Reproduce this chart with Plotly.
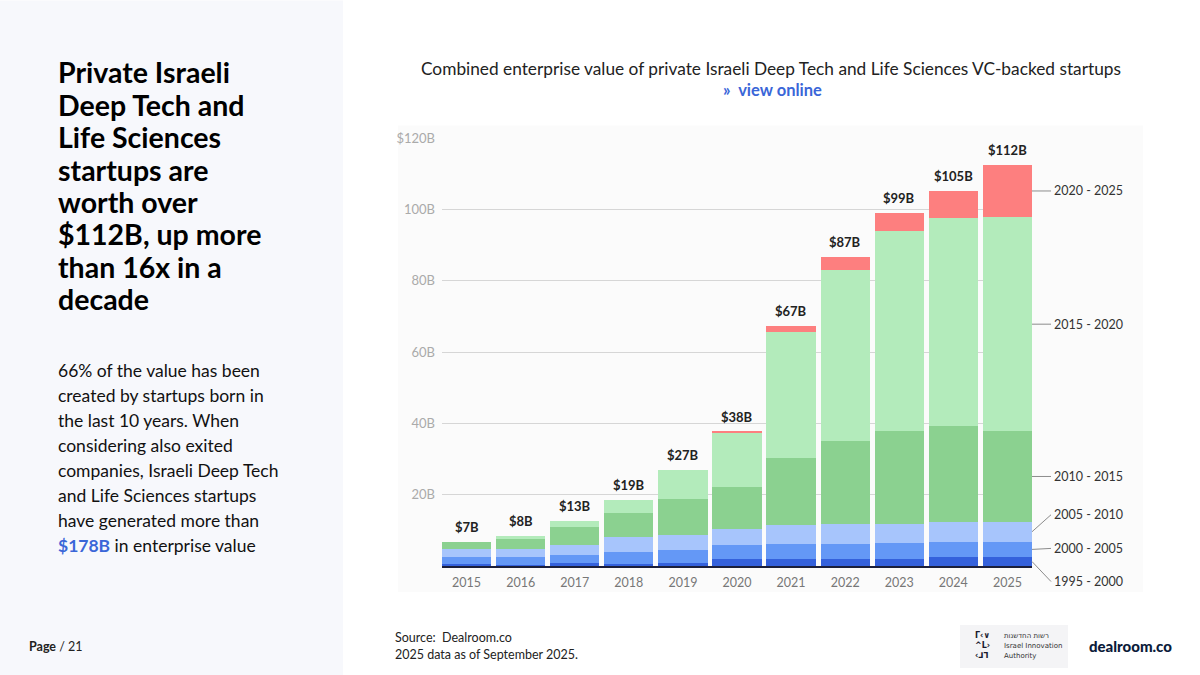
import plotly.graph_objects as go

# ---------------- data ----------------
years = ["2015", "2016", "2017", "2018", "2019", "2020", "2021", "2022", "2023", "2024", "2025"]
cohort_1995_2000 = [0.5, 0.3, 0.9, 0.5, 0.8, 2.0, 2.0, 2.0, 2.0, 2.5, 2.5]
cohort_2000_2005 = [2.1, 2.1, 2.1, 3.5, 3.7, 3.8, 4.3, 4.3, 4.4, 4.3, 4.3]
cohort_2005_2010 = [2.1, 2.5, 2.9, 4.2, 4.3, 4.6, 5.2, 5.4, 5.5, 5.6, 5.6]
cohort_2010_2015 = [1.9, 2.6, 5.1, 6.7, 9.9, 11.8, 18.9, 23.4, 26.0, 26.9, 25.4]
cohort_2015_2020 = [0.0, 0.8, 1.6, 3.7, 8.1, 15.1, 35.1, 48.0, 55.9, 58.2, 60.0]
cohort_2020_2025 = [0.0, 0.0, 0.0, 0.0, 0.0, 0.3, 1.9, 3.6, 5.2, 7.6, 14.7]
total_labels = ["$7B", "$8B", "$13B", "$19B", "$27B", "$38B", "$67B", "$87B", "$99B", "$105B", "$112B"]
series_names = ["1995 - 2000", "2000 - 2005", "2005 - 2010", "2010 - 2015", "2015 - 2020", "2020 - 2025"]
y_tickvals = [0, 20, 40, 60, 80, 100, 120]
y_ticktext = ["", "20B", "40B", "60B", "80B", "100B", "$120B"]

series = [cohort_1995_2000, cohort_2000_2005, cohort_2005_2010,
          cohort_2010_2015, cohort_2015_2020, cohort_2020_2025]
colors = ["#3461dc", "#6498f6", "#a7c5fc", "#8bd190", "#b3ebbb", "#fd7f7f"]

FONT = "Lato, 'Source Sans Pro', sans-serif"
W, H = 1200, 675
L, R, T, B = 442, 168, 137.6, 109
PW, PH = W - L - R, H - T - B


def px(x):
    return (x - L) / PW


def py(y):
    return (H - B - y) / PH


fig = go.Figure()
for name, vals, col in zip(series_names, series, colors):
    fig.add_trace(go.Bar(x=years, y=vals, name=name, marker=dict(color=col, line=dict(width=0)),
                         hoverinfo="skip"))

totals = [sum(v) for v in zip(*series)]
annotations = []
for i, (tot, lab) in enumerate(zip(totals, total_labels)):
    annotations.append(dict(xref="x", yref="y", x=i, y=tot, text=lab, showarrow=False,
                            xanchor="center", yanchor="bottom", yshift=5,
                            font=dict(family=FONT, size=13, color="#222222", weight="bold")))

# series labels at the end of the last bar
last = [s[-1] for s in series]
cum = 0
label_offsets = [20, -1, -17, 0, 0, 0]
for name, v, ay in zip(series_names, last, label_offsets):
    mid = cum + v / 2
    cum += v
    annotations.append(dict(xref="x", yref="y", x=len(years) - 1 + 0.455, y=mid, text=name,
                            showarrow=True, arrowhead=0, arrowwidth=1, arrowcolor="#8c8c8c",
                            ax=19, ay=ay, xanchor="left", yanchor="middle", borderpad=2,
                            font=dict(family=FONT, size=12.5, color="#333333")))

# title
annotations.append(dict(xref="paper", yref="paper", x=px(771), y=py(68), showarrow=False,
                        xanchor="center", yanchor="middle",
                        text="Combined enterprise value of private Israeli Deep Tech and Life Sciences VC-backed startups",
                        font=dict(family=FONT, size=17.3, color="#222222")))
annotations.append(dict(xref="paper", yref="paper", x=px(772), y=py(90), showarrow=False,
                        xanchor="center", yanchor="middle", text="»  view online",
                        font=dict(family=FONT, size=16.5, color="#3a66d8", weight="bold")))

# left panel heading
heading_lines = ["Private Israeli", "Deep Tech and", "Life Sciences", "startups are",
                 "worth over", "$112B, up more", "than 16x in a", "decade"]
for i, line in enumerate(heading_lines):
    annotations.append(dict(xref="paper", yref="paper", x=px(56), y=py(72 + i * 32.4), showarrow=False,
                            xanchor="left", yanchor="middle", text=line,
                            font=dict(family=FONT, size=28.5, color="#000000", weight="bold")))

body_lines = ["66% of the value has been", "created by startups born in", "the last 10 years. When",
              "considering also exited", "companies, Israeli Deep Tech", "and Life Sciences startups",
              "have generated more than",
              "<b><span style='color:#3a66d8'>$178B</span></b> in enterprise value"]
for i, line in enumerate(body_lines):
    annotations.append(dict(xref="paper", yref="paper", x=px(56), y=py(370 + i * 25), showarrow=False,
                            xanchor="left", yanchor="middle", text=line,
                            font=dict(family=FONT, size=17.5, color="#111111")))

annotations.append(dict(xref="paper", yref="paper", x=px(27), y=py(647), showarrow=False,
                        xanchor="left", yanchor="middle", text="<b>Page</b> / 21",
                        font=dict(family=FONT, size=12.5, color="#222222")))
annotations.append(dict(xref="paper", yref="paper", x=px(393), y=py(638), showarrow=False,
                        xanchor="left", yanchor="middle", text="Source:  Dealroom.co",
                        font=dict(family=FONT, size=12.5, color="#222222")))
annotations.append(dict(xref="paper", yref="paper", x=px(393), y=py(655), showarrow=False,
                        xanchor="left", yanchor="middle", text="2025 data as of September 2025.",
                        font=dict(family=FONT, size=12.5, color="#222222")))

# logos as text
for i, line in enumerate(["Γ‹∨", "^L›", "‹⅃ᒣ"]):
    annotations.append(dict(xref="paper", yref="paper", x=px(973), y=py(636 + i * 10), showarrow=False,
                            xanchor="left", yanchor="middle", text=line,
                            font=dict(family="DejaVu Sans", size=8, color="#1a1a2e", weight="bold")))
for i, line in enumerate(["רשות החדשנות", "Israel Innovation", "Authority"]):
    annotations.append(dict(xref="paper", yref="paper", x=px(1002), y=py(636 + i * 10), showarrow=False,
                            xanchor="left", yanchor="middle", text=line,
                            font=dict(family="DejaVu Sans", size=7, color="#333333")))
annotations.append(dict(xref="paper", yref="paper", x=px(1087), y=py(646), showarrow=False,
                        xanchor="left", yanchor="middle", text="dealroom.co",
                        font=dict(family=FONT, size=15, color="#0b1b3a", weight=900)))

shapes = [
    dict(type="rect", xref="paper", yref="paper", x0=px(0), x1=px(343), y0=py(0), y1=py(675),
         fillcolor="#f7f8fc", line=dict(width=0), layer="below"),
    dict(type="rect", xref="paper", yref="paper", x0=px(398), x1=px(1143), y0=py(125), y1=py(592),
         fillcolor="#fbfbfb", line=dict(width=0), layer="below"),
    dict(type="rect", xref="paper", yref="paper", x0=px(960), x1=px(1068), y0=py(625), y1=py(668),
         fillcolor="#f4f4f6", line=dict(width=0), layer="below"),
]

fig.update_layout(
    width=W, height=H, margin=dict(l=L, r=R, t=T, b=B, pad=0),
    barmode="stack", bargap=0.09, showlegend=False, hovermode=False,
    paper_bgcolor="#ffffff", plot_bgcolor="rgba(0,0,0,0)",
    font=dict(family=FONT),
    xaxis=dict(type="category", range=[-0.455, len(years) - 1 + 0.455], showgrid=False,
               showline=True, linecolor="#1b1f3b", linewidth=1.5, ticks="",
               ticklabelstandoff=4,
               tickfont=dict(family=FONT, size=12.5, color="#777777"), fixedrange=True),
    yaxis=dict(range=[0, 120], tickvals=y_tickvals, ticktext=y_ticktext, showgrid=True,
               gridcolor="#d6d6d6", gridwidth=1, zeroline=False, ticks="",
               ticklabelstandoff=6,
               tickfont=dict(family=FONT, size=13, color="#aaaaaa"), fixedrange=True),
    annotations=annotations, shapes=shapes,
)

fig.write_html("out.html", config={"displayModeBar": False},
               post_script="document.body.style.margin='0px';document.body.style.overflow='hidden';")
